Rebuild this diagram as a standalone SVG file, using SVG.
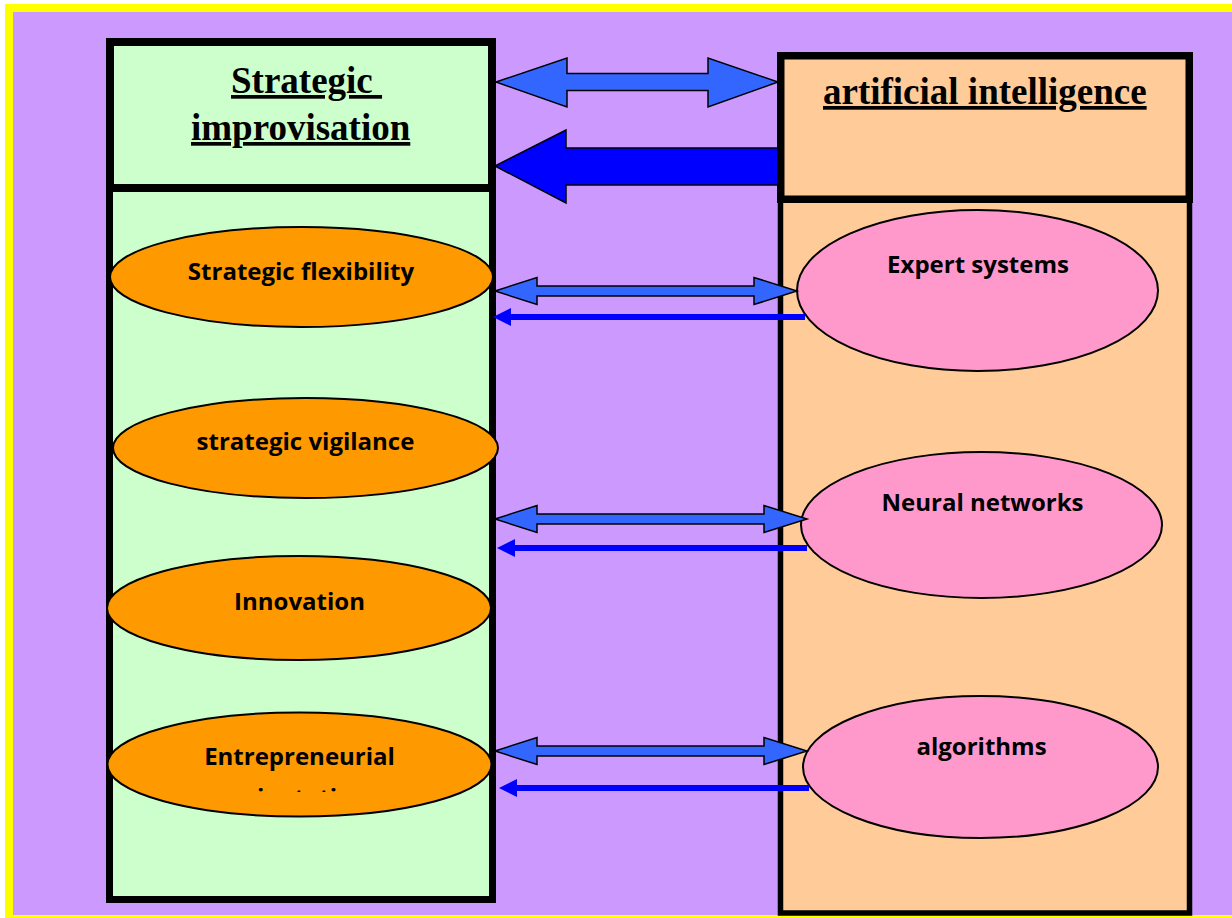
<svg xmlns="http://www.w3.org/2000/svg" width="1232" height="918" viewBox="0 0 1232 918">
<style>
.box{stroke:#000;stroke-linejoin:miter}
.green{fill:#CCFFCC}
.peach{fill:#FFCC99}
.orange{fill:#FF9900;stroke:#000;stroke-width:2}
.pink{fill:#FF99CC;stroke:#000;stroke-width:2}
.title{font-family:"Liberation Serif","Times New Roman",serif;font-weight:bold;font-size:37px;text-decoration:underline;fill:#000;white-space:pre}
.lbl{font-family:"Open Sans","Noto Sans",sans-serif;font-weight:bold;font-size:24px;fill:#000;text-anchor:middle}
.dbl{fill:#3366FF;stroke:#000;stroke-width:1.5;stroke-linejoin:miter}
.big{fill:#0000FF;stroke:#000;stroke-width:1.5}
.thin{stroke:#0000FF;stroke-width:6}
.thinhead{fill:#0000FF}
</style>
<defs>
<clipPath id="clipEnt"><rect x="100" y="700" width="400" height="92"/></clipPath>
</defs>
<rect x="5" y="4" width="1240" height="920" fill="#FFFF00"/>
<rect x="13" y="12" width="1230" height="903" fill="#CC99FF"/>

<g id="connectors">
<polygon class="big" points="495,166 566,130 566,148 790,148 790,185 566,185 566,203"/>
</g>

<g id="strategic-improvisation">
<rect class="box green" x="109.5" y="188" width="383" height="711.5" stroke-width="7"/>
<rect class="box green" x="110" y="42" width="382" height="146" stroke-width="8"/>
<text class="title" x="231" y="93">Strategic </text>
<text class="title" x="191" y="140">improvisation</text>
</g>

<g id="artificial-intelligence">
<rect class="box peach" x="780.5" y="199" width="409" height="714" stroke-width="5.5"/>
<rect class="box peach" x="780.75" y="55.75" width="408.5" height="143.5" stroke-width="7.5"/>
<text class="title" x="823" y="104">artificial intelligence</text>
</g>

<g id="strategic-flexibility">
<ellipse class="orange" cx="301.5" cy="277" rx="191.5" ry="50"/>
<text class="lbl" x="301" y="280">Strategic flexibility</text>
</g>
<g id="strategic-vigilance">
<ellipse class="orange" cx="305.5" cy="448" rx="192.5" ry="50"/>
<text class="lbl" x="305.5" y="450">strategic vigilance</text>
</g>
<g id="innovation">
<ellipse class="orange" cx="299" cy="608" rx="192" ry="52"/>
<text class="lbl" x="299.5" y="610">Innovation</text>
</g>
<g id="entrepreneurial">
<ellipse class="orange" cx="299.5" cy="764.5" rx="192" ry="52"/>
<text class="lbl" x="299.5" y="765">Entrepreneurial</text>
<text class="lbl" x="299.5" y="806" clip-path="url(#clipEnt)">orientation</text>
</g>

<g id="expert-systems">
<ellipse class="pink" cx="977.5" cy="290.5" rx="180.5" ry="80.5"/>
<text class="lbl" x="978" y="273">Expert systems</text>
</g>
<g id="neural-networks">
<ellipse class="pink" cx="981.5" cy="525" rx="180.5" ry="73"/>
<text class="lbl" x="982.5" y="511">Neural networks</text>
</g>
<g id="algorithms">
<ellipse class="pink" cx="980.5" cy="767" rx="177.5" ry="71"/>
<text class="lbl" x="981.5" y="755">algorithms</text>
</g>

<g id="connectors-front">
<polygon class="dbl" points="496,82 567,58 567,73.5 708,73.5 708,58 778,82 708,107 708,90.5 567,90.5 567,107"/>

<polygon class="dbl" points="495,291 537,277.5 537,286 754,286 754,277.5 797,291 754,304.5 754,296 537,296 537,304.5"/>
<line class="thin" x1="509" y1="317" x2="805" y2="317"/>
<polygon class="thinhead" points="493,317 511,308 511,326"/>

<polygon class="dbl" points="495,519 537,505.5 537,514 764,514 764,505.5 807,519 764,532.5 764,524 537,524 537,532.5"/>
<line class="thin" x1="513" y1="548" x2="807" y2="548"/>
<polygon class="thinhead" points="497,548 515,539 515,557"/>

<polygon class="dbl" points="495,751 537,737.5 537,746 764,746 764,737.5 807,751 764,764.5 764,756 537,756 537,764.5"/>
<line class="thin" x1="515" y1="788" x2="809" y2="788"/>
<polygon class="thinhead" points="499,788 517,779 517,797"/>
</g>
</svg>
